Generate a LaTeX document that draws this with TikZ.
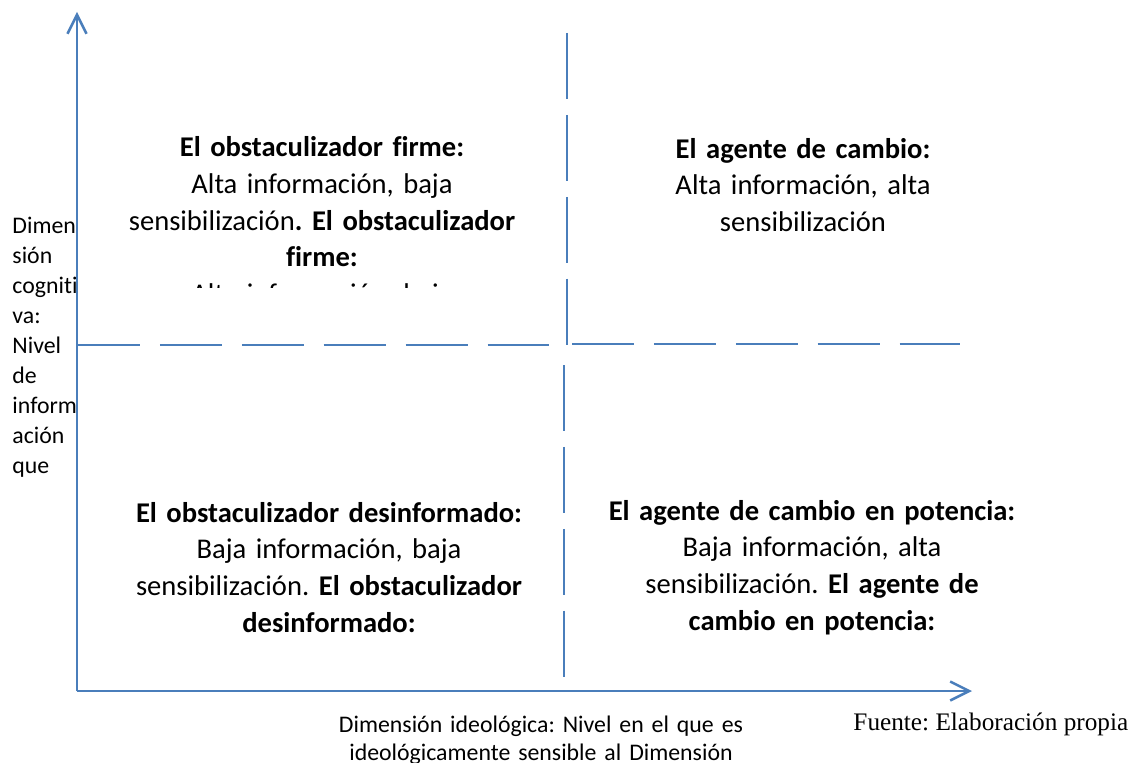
\documentclass[tikz,border=0pt]{standalone}
\usepackage{fontspec}
\setmainfont{Carlito}[Ligatures=NoCommon]
\newfontfamily\fuentefont{Liberation Serif}
\usepackage{tikz}
\usetikzlibrary{arrows.meta}
\definecolor{ejeazul}{HTML}{4A7EBB}
\tikzstyle{every node}+=[inner sep=0pt]
\tikzstyle{quad} = [text width=200pt, align=center, anchor=base, font=\fontsize{12}{15.4}\selectfont]
\tikzstyle{rotulo} = [text width=80pt, align=left, anchor=base west, font=\fontsize{10}{12.6}\selectfont]
\tikzstyle{pie} = [text width=200pt, align=center, anchor=base, font=\fontsize{10}{12}\selectfont]
\tikzstyle{fuente} = [anchor=base west, font=\fuentefont\fontsize{10.6}{12}\selectfont]
\tikzstyle{eje} = [draw=ejeazul, line width=1.05pt, -{Straight Barb[length=8pt, width=8pt]}]
\tikzstyle{corteh} = [draw=ejeazul, line width=0.75pt, dash pattern=on 26pt off 8.4pt]
\tikzstyle{cortev} = [draw=ejeazul, line width=0.75pt, dash pattern=on 27.7pt off 6.7pt]

\begin{document}
\frenchspacing
\begin{tikzpicture}[x=0.42pt, y=-0.42pt]
            \useasboundingbox (0,0) rectangle (1133,763);
            % Place coordinates
            \coordinate (O) at (77,691);
            \coordinate (ytop) at (77,12);
            \coordinate (xend) at (972,691);
            \coordinate (h1) at (78,345);
            \coordinate (h2) at (552,345);
            \coordinate (h3) at (572,344);
            \coordinate (h4) at (960,344);
            \coordinate (v1) at (567,33);
            \coordinate (v2) at (567,345);
            \coordinate (v3) at (564,365);
            \coordinate (v4) at (564,677);
            % Place nodes
            \begin{scope}
            \clip (80,0) rectangle (560,287);
            \node [quad] (firme) at (322,157) {\textbf{El obstaculizador firme:}\\Alta información, baja\\sensibilización\textbf{. El obstaculizador}\\\textbf{firme:}\\Alta información, baja};
            \end{scope}
            \node [quad] (agente) at (803,158) {\textbf{El agente de cambio:}\\Alta información, alta\\sensibilización};
            \node [quad] (desinformado) at (329,522) {\textbf{El obstaculizador desinformado:}\\Baja información, baja\\sensibilización. \textbf{El obstaculizador}\\\textbf{desinformado:}};
            \node [quad] (potencia) at (812,520) {\textbf{El agente de cambio en potencia:}\\Baja información, alta\\sensibilización. \textbf{El agente de}\\\textbf{cambio en potencia:}};
            \begin{scope}
            \clip (0,0) rectangle (76,763);
            \node [rotulo] (cognitiva) at (12,233) {Dimen\\sión\\cogniti\\va:\\Nivel\\de\\inform\\ación\\que};
            \end{scope}
            \node [pie] (ideologica) at (541,732) {Dimensión ideológica: Nivel en el que es\\ideológicamente sensible al Dimensión};
            \node [fuente] (fuente) at (853,730) {Fuente: Elaboración propia};
            % Draw axes
            \path [eje] (O) -- (ytop);
            \path [eje] (O) -- (xend);
            \path [corteh] (h1) -- (h2);
            \path [corteh] (h3) -- (h4);
            \path [cortev] (v1) -- (v2);
            \path [cortev] (v3) -- (v4);
\end{tikzpicture}
\end{document}
